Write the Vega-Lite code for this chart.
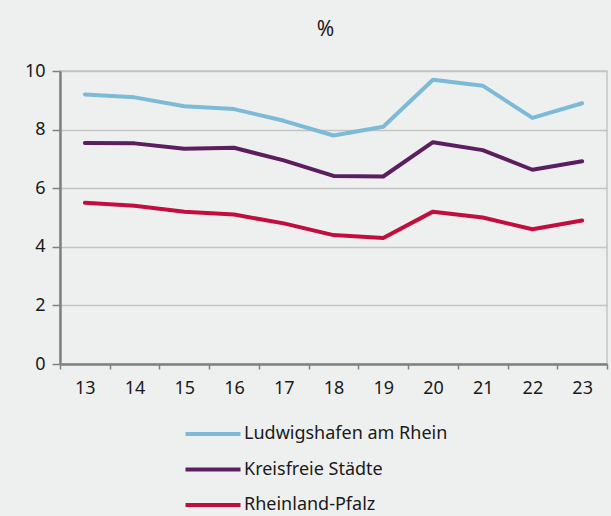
{
  "$schema": "https://vega.github.io/schema/vega-lite/v6.json",
  "width": 547,
  "height": 293,
  "autosize": {"type": "none"},
  "padding": {"left": 60, "top": 71, "right": 4, "bottom": 152},
  "background": "#eef0ef",
  "title": {"text": "%", "anchor": "middle", "offset": 22, "fontSize": 21, "font": "Noto Sans", "fontWeight": "normal", "color": "#1a1a1a", "dx": -8},
  "config": {
    "font": "Noto Sans",
    "view": {"stroke": "#c4c4c4", "strokeWidth": 1.5}
  },
  "data": {
    "values": [
      {"Jahr": "13", "Gebiet": "Ludwigshafen am Rhein", "Wert": 9.2},
      {"Jahr": "14", "Gebiet": "Ludwigshafen am Rhein", "Wert": 9.1},
      {"Jahr": "15", "Gebiet": "Ludwigshafen am Rhein", "Wert": 8.8},
      {"Jahr": "16", "Gebiet": "Ludwigshafen am Rhein", "Wert": 8.7},
      {"Jahr": "17", "Gebiet": "Ludwigshafen am Rhein", "Wert": 8.3},
      {"Jahr": "18", "Gebiet": "Ludwigshafen am Rhein", "Wert": 7.8},
      {"Jahr": "19", "Gebiet": "Ludwigshafen am Rhein", "Wert": 8.1},
      {"Jahr": "20", "Gebiet": "Ludwigshafen am Rhein", "Wert": 9.7},
      {"Jahr": "21", "Gebiet": "Ludwigshafen am Rhein", "Wert": 9.5},
      {"Jahr": "22", "Gebiet": "Ludwigshafen am Rhein", "Wert": 8.4},
      {"Jahr": "23", "Gebiet": "Ludwigshafen am Rhein", "Wert": 8.9},
      {"Jahr": "13", "Gebiet": "Kreisfreie Städte", "Wert": 7.54},
      {"Jahr": "14", "Gebiet": "Kreisfreie Städte", "Wert": 7.53},
      {"Jahr": "15", "Gebiet": "Kreisfreie Städte", "Wert": 7.35},
      {"Jahr": "16", "Gebiet": "Kreisfreie Städte", "Wert": 7.38},
      {"Jahr": "17", "Gebiet": "Kreisfreie Städte", "Wert": 6.95},
      {"Jahr": "18", "Gebiet": "Kreisfreie Städte", "Wert": 6.42},
      {"Jahr": "19", "Gebiet": "Kreisfreie Städte", "Wert": 6.4},
      {"Jahr": "20", "Gebiet": "Kreisfreie Städte", "Wert": 7.57},
      {"Jahr": "21", "Gebiet": "Kreisfreie Städte", "Wert": 7.3},
      {"Jahr": "22", "Gebiet": "Kreisfreie Städte", "Wert": 6.63},
      {"Jahr": "23", "Gebiet": "Kreisfreie Städte", "Wert": 6.92},
      {"Jahr": "13", "Gebiet": "Rheinland-Pfalz", "Wert": 5.5},
      {"Jahr": "14", "Gebiet": "Rheinland-Pfalz", "Wert": 5.4},
      {"Jahr": "15", "Gebiet": "Rheinland-Pfalz", "Wert": 5.2},
      {"Jahr": "16", "Gebiet": "Rheinland-Pfalz", "Wert": 5.1},
      {"Jahr": "17", "Gebiet": "Rheinland-Pfalz", "Wert": 4.8},
      {"Jahr": "18", "Gebiet": "Rheinland-Pfalz", "Wert": 4.4},
      {"Jahr": "19", "Gebiet": "Rheinland-Pfalz", "Wert": 4.3},
      {"Jahr": "20", "Gebiet": "Rheinland-Pfalz", "Wert": 5.2},
      {"Jahr": "21", "Gebiet": "Rheinland-Pfalz", "Wert": 5.0},
      {"Jahr": "22", "Gebiet": "Rheinland-Pfalz", "Wert": 4.6},
      {"Jahr": "23", "Gebiet": "Rheinland-Pfalz", "Wert": 4.9}
    ]
  },
  "mark": {"type": "line", "strokeWidth": 4, "strokeCap": "round", "strokeJoin": "round"},
  "encoding": {
    "x": {
      "field": "Jahr", "type": "ordinal",
      "scale": {"type": "band", "paddingInner": 0, "paddingOuter": 0},
      "axis": {
        "title": null, "labelAngle": 0, "labelFontSize": 18, "labelColor": "#1a1a1a", "labelPadding": 10,
        "tickBand": "extent", "ticks": true, "tickSize": 5, "tickColor": "#808080", "tickWidth": 1.5,
        "domainColor": "#808080", "domainWidth": 2.5, "grid": false
      }
    },
    "y": {
      "field": "Wert", "type": "quantitative",
      "scale": {"domain": [0, 10]},
      "axis": {
        "title": null, "values": [0, 2, 4, 6, 8, 10], "labelFontSize": 18, "labelColor": "#1a1a1a", "labelPadding": 7,
        "tickSize": 8, "tickColor": "#808080", "tickWidth": 1.5,
        "domainColor": "#808080", "domainWidth": 2.5,
        "grid": true, "gridColor": "#c4c4c4", "gridWidth": 1.5
      }
    },
    "color": {
      "field": "Gebiet", "type": "nominal",
      "scale": {"domain": ["Ludwigshafen am Rhein", "Kreisfreie Städte", "Rheinland-Pfalz"], "range": ["#7cbad7", "#5b1f5f", "#c10e3f"]},
      "legend": {
        "title": null, "orient": "none", "legendX": 137, "legendY": 347, "direction": "vertical",
        "symbolType": "M-2,0H2", "symbolSize": 756, "symbolStrokeWidth": 4, "symbolFillColor": "transparent",
        "labelFontSize": 18, "labelColor": "#1a1a1a", "labelOffset": 15, "rowPadding": 10.5, "labelLimit": 400
      }
    }
  }
}
